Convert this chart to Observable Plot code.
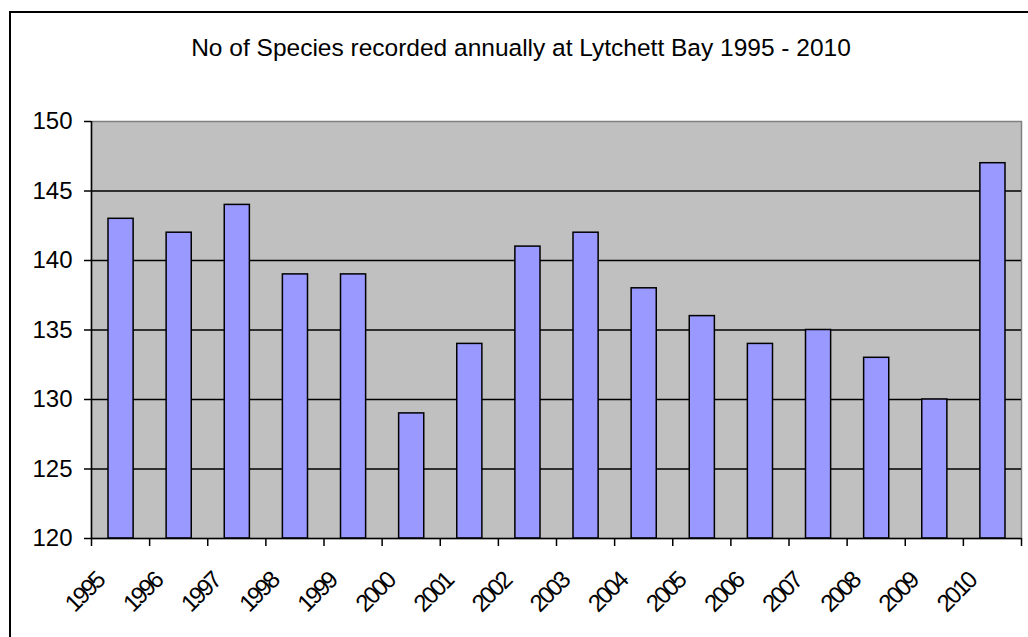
<!DOCTYPE html>
<html><head><meta charset="utf-8">
<script src="https://cdn.jsdelivr.net/npm/d3@7"></script>
<script src="https://cdn.jsdelivr.net/npm/@observablehq/plot@0.6"></script>
<style>
html,body{margin:0;padding:0;background:#fff;overflow:hidden;width:1028px;height:637px;}
#frame{position:absolute;left:9px;top:11px;width:1040px;height:700px;border:2px solid #000;box-sizing:border-box;}
#title{position:absolute;left:9px;width:1024px;top:35.5px;text-align:center;font-family:"Liberation Sans",Arial,sans-serif;font-size:24.5px;line-height:24.5px;color:#000;white-space:nowrap;}
#chart{position:absolute;left:0;top:80px;}
</style></head><body>
<div id="frame"></div>
<div id="title">No of Species recorded annually at Lytchett Bay 1995 - 2010</div>
<div id="chart"></div>
<script>
const years = [1995,1996,1997,1998,1999,2000,2001,2002,2003,2004,2005,2006,2007,2008,2009,2010];
const counts = [143,142,144,139,139,129,134,141,142,138,136,134,135,133,130,147];
const tickLabels = ["1995","1996","1997","1998","1999","2000","2001","2002","2003","2004","2005","2006","2007","2008","2009","2010"];
const xBoundaries = [1995,1996,1997,1998,1999,2000,2001,2002,2003,2004,2005,2006,2007,2008,2009,2010,2011];
const yTicks = [120,125,130,135,140,145,150];
const gridValues = [125,130,135,140,145];
const yDomain = [120,150];

const data = years.map((year,i)=>({year, count: counts[i]}));
const font = "Liberation Sans, Arial, sans-serif";

const chart = Plot.plot({
  width:1028, height:557,
  marginTop:41, marginLeft:91, marginRight:7, marginBottom:99,
  x:{type:"linear", domain:[xBoundaries[0], xBoundaries[xBoundaries.length-1]]},
  y:{domain:yDomain},
  style:{fontFamily:font, fontSize:"24px", color:"#000", background:"transparent", overflow:"visible"},
  marks:[
    Plot.frame({fill:"#C0C0C0", stroke:"#808080", strokeWidth:1.5}),
    Plot.ruleY(gridValues, {stroke:"#000", strokeWidth:1.5}),
    Plot.rectY(data, {x1:"year", x2:d=>d.year+1, y1:yDomain[0], y2:"count", insetLeft:17, insetRight:16, fill:"#9999FF", stroke:"#000", strokeWidth:1.5}),
    Plot.ruleX([xBoundaries[0]], {stroke:"#000", strokeWidth:1.5}),
    Plot.ruleY([yDomain[0]], {stroke:"#000", strokeWidth:1.5}),
    Plot.axisY({ticks:yTicks, tickSize:7, tickPadding:12, tickFormat:d=>String(d), label:null, fontSize:24, strokeWidth:1.5, strokeOpacity:1}),
    Plot.axisX({ticks:xBoundaries, tickSize:8, tickFormat:()=>"", label:null, strokeWidth:1.5, strokeOpacity:1}),
    Plot.text(years, {x:d=>d, y:yDomain[0], text:tickLabels, rotate:-45, textAnchor:"end", lineAnchor:"bottom", dx:14, dy:44, fontSize:24})
  ]
});
d3.select(chart).selectAll('g[aria-label="text"] text').attr("letter-spacing","-2.5px");
document.getElementById("chart").appendChild(chart);
</script>
</body></html>
